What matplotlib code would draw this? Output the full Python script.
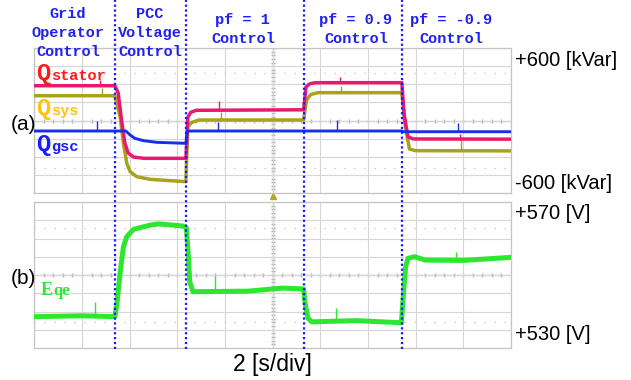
import numpy as np
import matplotlib.pyplot as plt
from matplotlib.lines import Line2D
from matplotlib.transforms import blended_transform_factory

# Tiempo en segundos (2 s/div, 10 divisiones en pantalla)
t_cambios = [3.38, 6.36, 11.30, 15.42]

# Potencia reactiva del estator [kVar]
t_stator = [0, 3.38, 3.52, 3.66, 3.80, 3.94, 4.16, 4.60, 6.36, 6.44, 6.56, 6.80,
            11.30, 11.40, 11.56, 11.80, 15.42, 15.52, 15.68, 15.90, 20]
q_stator = [341, 341, 270, 5, -221, -319, -358, -371, -371, 30, 80, 100,
            105, 330, 360, 371, 371, 50, -160, -181, -183]

# Potencia reactiva del sistema [kVar]
t_sys = [0, 3.38, 3.42, 3.60, 3.74, 3.88, 4.02, 4.30, 4.86, 6.36, 6.44, 6.60, 6.90,
         11.30, 11.42, 11.60, 11.90, 15.42, 15.56, 15.74, 16.00, 20]
q_sys = [243, 243, 200, 37, -224, -420, -502, -551, -577, -600, -60, -20, 5,
         5, 200, 255, 273, 273, -50, -280, -296, -298]

# Potencia reactiva del convertidor del lado de red [kVar]
t_gsc = [0, 3.84, 4.02, 4.22, 4.58, 5.14, 6.36, 6.42, 15.42, 15.50, 20]
q_gsc = [-103, -103, -142, -175, -198, -214, -224, -103, -103, -110, -110]

# Tension Eqe [V]
t_eqe = [0, 2.0, 3.38, 3.46, 3.60, 3.74, 3.88, 4.16, 4.86, 5.20, 6.24, 6.38, 6.46,
         6.52, 6.66, 9.0, 10.4, 11.30, 11.36, 11.48, 11.64, 13.5, 15.40, 15.50,
         15.58, 15.68, 15.96, 16.40, 18.0, 20]
e_qe = [536.3, 536.6, 536.3, 540.1, 550.6, 559.3, 562.6, 565.0, 566.4, 566.8, 566.1,
        565.5, 556.6, 547.8, 544.5, 544.7, 545.7, 545.4, 540.7, 535.8, 534.6, 535.0,
        534.3, 545.1, 552.7, 555.5, 556.0, 554.9, 554.8, 555.8]

# Picos (tiempo, base, punta)
pico_gsc_t = [2.62, 7.70, 12.72, 17.76]
pico_gsc_b = [-103, -103, -103, -110]
pico_gsc_p = [-3, -15, 5, -20]
pico_sta_t = [2.76, 7.74, 12.82, 17.86]
pico_sta_b = [341, 105, 371, -181]
pico_sta_p = [400, 190, 430, -130]
pico_sys_t = [2.82, 7.82, 12.88, 17.92]
pico_sys_b = [243, 5, 273, -296]
pico_sys_p = [320, 85, 340, -195]
pico_eqe_t = [2.54, 7.58, 12.64, 17.68]
pico_eqe_b = [536.3, 544.5, 534.6, 555.0]
pico_eqe_p = [541.0, 549.6, 539.0, 557.5]

# Textos de cabecera
cabeceras = ['Grid\nOperator\nControl', 'PCC\nVoltage\nControl',
             'pf = 1\nControl', 'pf = 0.9\nControl', 'pf = -0.9\nControl']
cab_x = [1.41, 4.85, 8.75, 13.49, 17.50]

W, H = 631, 380
fig = plt.figure(figsize=(6.31, 3.80), dpi=100)


def fx(px):
    return px / W


def fy(py):
    return 1 - py / H


ax_top = fig.add_axes([fx(34.3), fy(193), fx(511) - fx(34.3), (193 - 48) / H])
ax_bot = fig.add_axes([fx(34.3), fy(348), fx(511) - fx(34.3), (348 - 202) / H])


def estilo(ax, ymin, ymax, punteado):
    ax.set_xlim(0, 20)
    ax.set_ylim(ymin, ymax)
    ax.set_xticks(np.arange(0, 21, 2))
    ax.set_yticks(np.linspace(ymin, ymax, 9))
    ax.grid(True, color='#d6d6d6', lw=0.8)
    ax.tick_params(length=0, labelleft=False, labelbottom=False)
    for s in ax.spines.values():
        s.set_color('#c4c4c4')
        s.set_linewidth(0.9)
    mid = (ymin + ymax) / 2
    div = (ymax - ymin) / 8
    ax.axhline(mid, color='#b0b0b0', lw=0.9, zorder=1)
    ax.axvline(10, color='#b0b0b0', lw=0.9, zorder=1)
    # marcas pequeñas en los ejes centrales
    xm = np.arange(0.4, 20, 0.4)
    ax.plot(xm, np.full(len(xm), mid), '|', color='#b0b0b0', ms=3, zorder=1)
    ym = np.arange(ymin + div / 5, ymax, div / 5)
    ax.plot(np.full(len(ym), 10), ym, '_', color='#b0b0b0', ms=3, zorder=1)
    for yy in punteado:
        ax.axhline(yy, color='#c0c0c0', lw=0.9, linestyle=(0, (1, 7)), zorder=1)


estilo(ax_top, -711, 711, [-461, 461])
estilo(ax_bot, 526, 574, [534.7, 565.3])

ax_top.plot(t_sys, q_sys, color='#a9a21c', lw=2.5, zorder=3)
ax_top.plot(t_stator, q_stator, color='#e8196e', lw=2.5, zorder=4)
ax_top.plot(t_gsc, q_gsc, color='#1530e6', lw=2.1, zorder=5)
ax_top.vlines(pico_sys_t, pico_sys_b, pico_sys_p, color='#a9a21c', lw=1, zorder=3)
ax_top.vlines(pico_sta_t, pico_sta_b, pico_sta_p, color='#e8196e', lw=1, zorder=4)
ax_top.vlines(pico_gsc_t, pico_gsc_b, pico_gsc_p, color='#1530e6', lw=1, zorder=5)

ax_bot.plot(t_eqe, e_qe, color='#2ee62e', lw=3.6, zorder=3)
ax_bot.vlines(pico_eqe_t, pico_eqe_b, pico_eqe_p, color='#2ee62e', lw=1, zorder=3)

# marcador de disparo
trig = blended_transform_factory(ax_top.transData, fig.transFigure)
ax_top.plot([10], [fy(196)], marker='^', color='#b8a820', ms=4, transform=trig, clip_on=False)

# lineas divisorias punteadas
for t in t_cambios:
    fig.add_artist(Line2D([t, t], [fy(349), 1.0], transform=trig, color='#1a1aff',
                          lw=1.6, linestyle=(0, (1, 1.2))))

mono = 'Liberation Mono'
for txt, x in zip(cabeceras, cab_x):
    yc = 33 if txt.count('\n') == 2 else 29.5
    fig.text(x, fy(yc), txt, transform=trig, ha='center', va='center', ma='center',
             color='#2020f0', family=mono, weight='bold', fontsize=11, linespacing=1.45)

# etiquetas de las trazas
etiquetas = [('stator', '#ff1a1a', 80), ('sys', '#ffc20e', 115), ('gsc', '#1a1aff', 151)]
for sub, col, yb in etiquetas:
    fig.text(fx(36), fy(yb), 'Q', color=col, family=mono, weight='bold', fontsize=17,
             va='baseline')
    fig.text(fx(51), fy(yb), sub, color=col, family=mono, weight='bold', fontsize=11,
             va='baseline')
fig.text(fx(41), fy(295), 'E', color='#2ee62e', family='Liberation Serif', weight='bold',
         fontsize=13, va='baseline')
fig.text(fx(53), fy(295), 'qe', color='#2ee62e', family='Liberation Serif', weight='bold',
         fontsize=12, va='baseline')

sans = 'Liberation Sans'
fig.text(fx(11), fy(125), '(a)', family=sans, fontsize=15, va='center')
fig.text(fx(11), fy(278), '(b)', family=sans, fontsize=15, va='center')
fig.text(fx(515), fy(60), '+600 [kVar]', family=sans, fontsize=14.5, va='center')
fig.text(fx(515), fy(183), '-600 [kVar]', family=sans, fontsize=14.5, va='center')
fig.text(fx(515), fy(213.5), '+570 [V]', family=sans, fontsize=14.5, va='center')
fig.text(fx(515), fy(335), '+530 [V]', family=sans, fontsize=14.5, va='center')
fig.text(fx(272), fy(365), '2 [s/div]', family=sans, fontsize=16.5, ha='center', va='center')

fig.savefig('out.png', dpi=100, facecolor='white')
